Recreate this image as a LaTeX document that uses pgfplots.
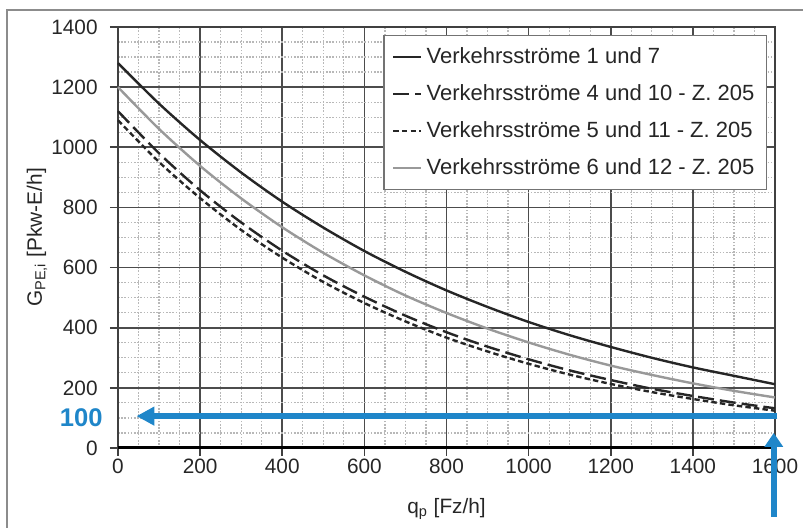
\documentclass[border=0pt]{standalone}
\usepackage{fontspec}
\setmainfont{Liberation Sans}
\usepackage{pgfplots}
\pgfplotsset{compat=1.18}
\usetikzlibrary{arrows.meta}
\definecolor{arrowblue}{RGB}{31,134,201}
\begin{document}
\begin{tikzpicture}
\path[use as bounding box] (-59pt,-40pt) rectangle (342.5pt,224pt);
\draw[black!45, line width=0.9pt] (-55.5pt,-40pt) -- (-55.5pt,219pt) -- (342.5pt,219pt);
\begin{axis}[
  at={(0,0)}, anchor=south west,
  scale only axis, width=328.5pt, height=210.5pt,
  xmin=0, xmax=1600, ymin=0, ymax=1400,
  xtick={0,200,...,1600}, ytick={0,200,...,1400},
  minor tick num=3,
  grid=both,
  major grid style={draw=black!70, line width=0.8pt},
  minor grid style={draw=black!28, line width=0.6pt, dash pattern=on 0.8pt off 0.8pt},
  axis line style={draw=black!75, line width=0.9pt},
  tick align=outside, xtick pos=left, ytick pos=left,
  major tick length=4pt, minor tick length=0pt,
  tick style={draw=black!75, line width=0.8pt},
  /pgf/number format/assume math mode=true,
  /pgf/number format/1000 sep={},
  ticklabel style={font=\fontsize{10.4}{12}\selectfont, text=black!85},
  yticklabel style={anchor=east, inner sep=0pt, xshift=-6pt},
  xticklabel style={anchor=north, inner sep=0pt, yshift=-1.5pt},
  xlabel={q\textsubscript{p} [Fz/h]},
  ylabel={G\textsubscript{PE,i} [Pkw-E/h]},
  label style={font=\fontsize{10.4}{12}\selectfont, text=black!85},
  xlabel style={at={(axis description cs:0.5,-0.145)}, anchor=center},
  ylabel style={at={(axis description cs:-0.1233,0.5)}, anchor=center},
  legend style={at={(axis description cs:1,1)}, anchor=north east,
    xshift=-4pt, yshift=-4pt, draw=black!55, line width=0.7pt,
    font=\fontsize{11}{13}\selectfont, row sep=5pt, inner xsep=4pt, inner ysep=4pt,
    fill=white, text=black!85},
  legend cell align=left,
  legend image code/.code={\draw[#1] (0pt,0pt) -- (14pt,0pt);},
  clip=false,
]
\addplot[black!85, line width=1.2pt, smooth] coordinates {
(0,1280) (100,1145) (200,1024) (300,916) (400,819) (500,733) (600,655) (700,586) (800,524)
(900,469) (1000,419) (1100,375) (1200,336) (1300,300) (1400,268) (1500,240) (1600,212)};
\addlegendentry{Verkehrsströme 1 und 7}
\addplot[black!85, line width=1.2pt, smooth, dash pattern=on 8pt off 3pt] coordinates {
(0,1120) (100,980) (200,857) (300,750) (400,656) (500,574) (600,503) (700,440) (800,385)
(900,337) (1000,295) (1100,258) (1200,226) (1300,197) (1400,173) (1500,151) (1600,132)};
\addlegendentry{Verkehrsströme 4 und 10 - Z. 205}
\addplot[black!85, line width=1.2pt, smooth, dash pattern=on 2.7pt off 1.6pt] coordinates {
(0,1090) (100,951) (200,831) (300,725) (400,633) (500,552) (600,482) (700,421) (800,367)
(900,321) (1000,280) (1100,244) (1200,213) (1300,186) (1400,163) (1500,142) (1600,124)};
\addlegendentry{Verkehrsströme 5 und 11 - Z. 205}
\addplot[black!40, line width=1.2pt, smooth] coordinates {
(0,1200) (100,1061) (200,938) (300,830) (400,734) (500,649) (600,574) (700,507) (800,449)
(900,397) (1000,351) (1100,310) (1200,274) (1300,243) (1400,215) (1500,190) (1600,168)};
\addlegendentry{Verkehrsströme 6 und 12 - Z. 205}
\draw[black, line width=1.5pt] (axis cs:0,0) -- (axis cs:1600,0);
\draw[arrowblue, line width=3pt, -{Triangle[length=9pt,width=9pt]}] (axis cs:1606,106) -- (axis cs:45,106);
\draw[arrowblue, line width=3pt, -{Triangle[length=7pt,width=9pt]}] (axis cs:1597,-229) -- (axis cs:1597,50);
\node[anchor=east, text=arrowblue, font=\fontsize{12.8}{14}\selectfont\bfseries, inner sep=0pt, xshift=-7.5pt]
  at (axis cs:0,100) {100};
\end{axis}
\end{tikzpicture}
\end{document}
